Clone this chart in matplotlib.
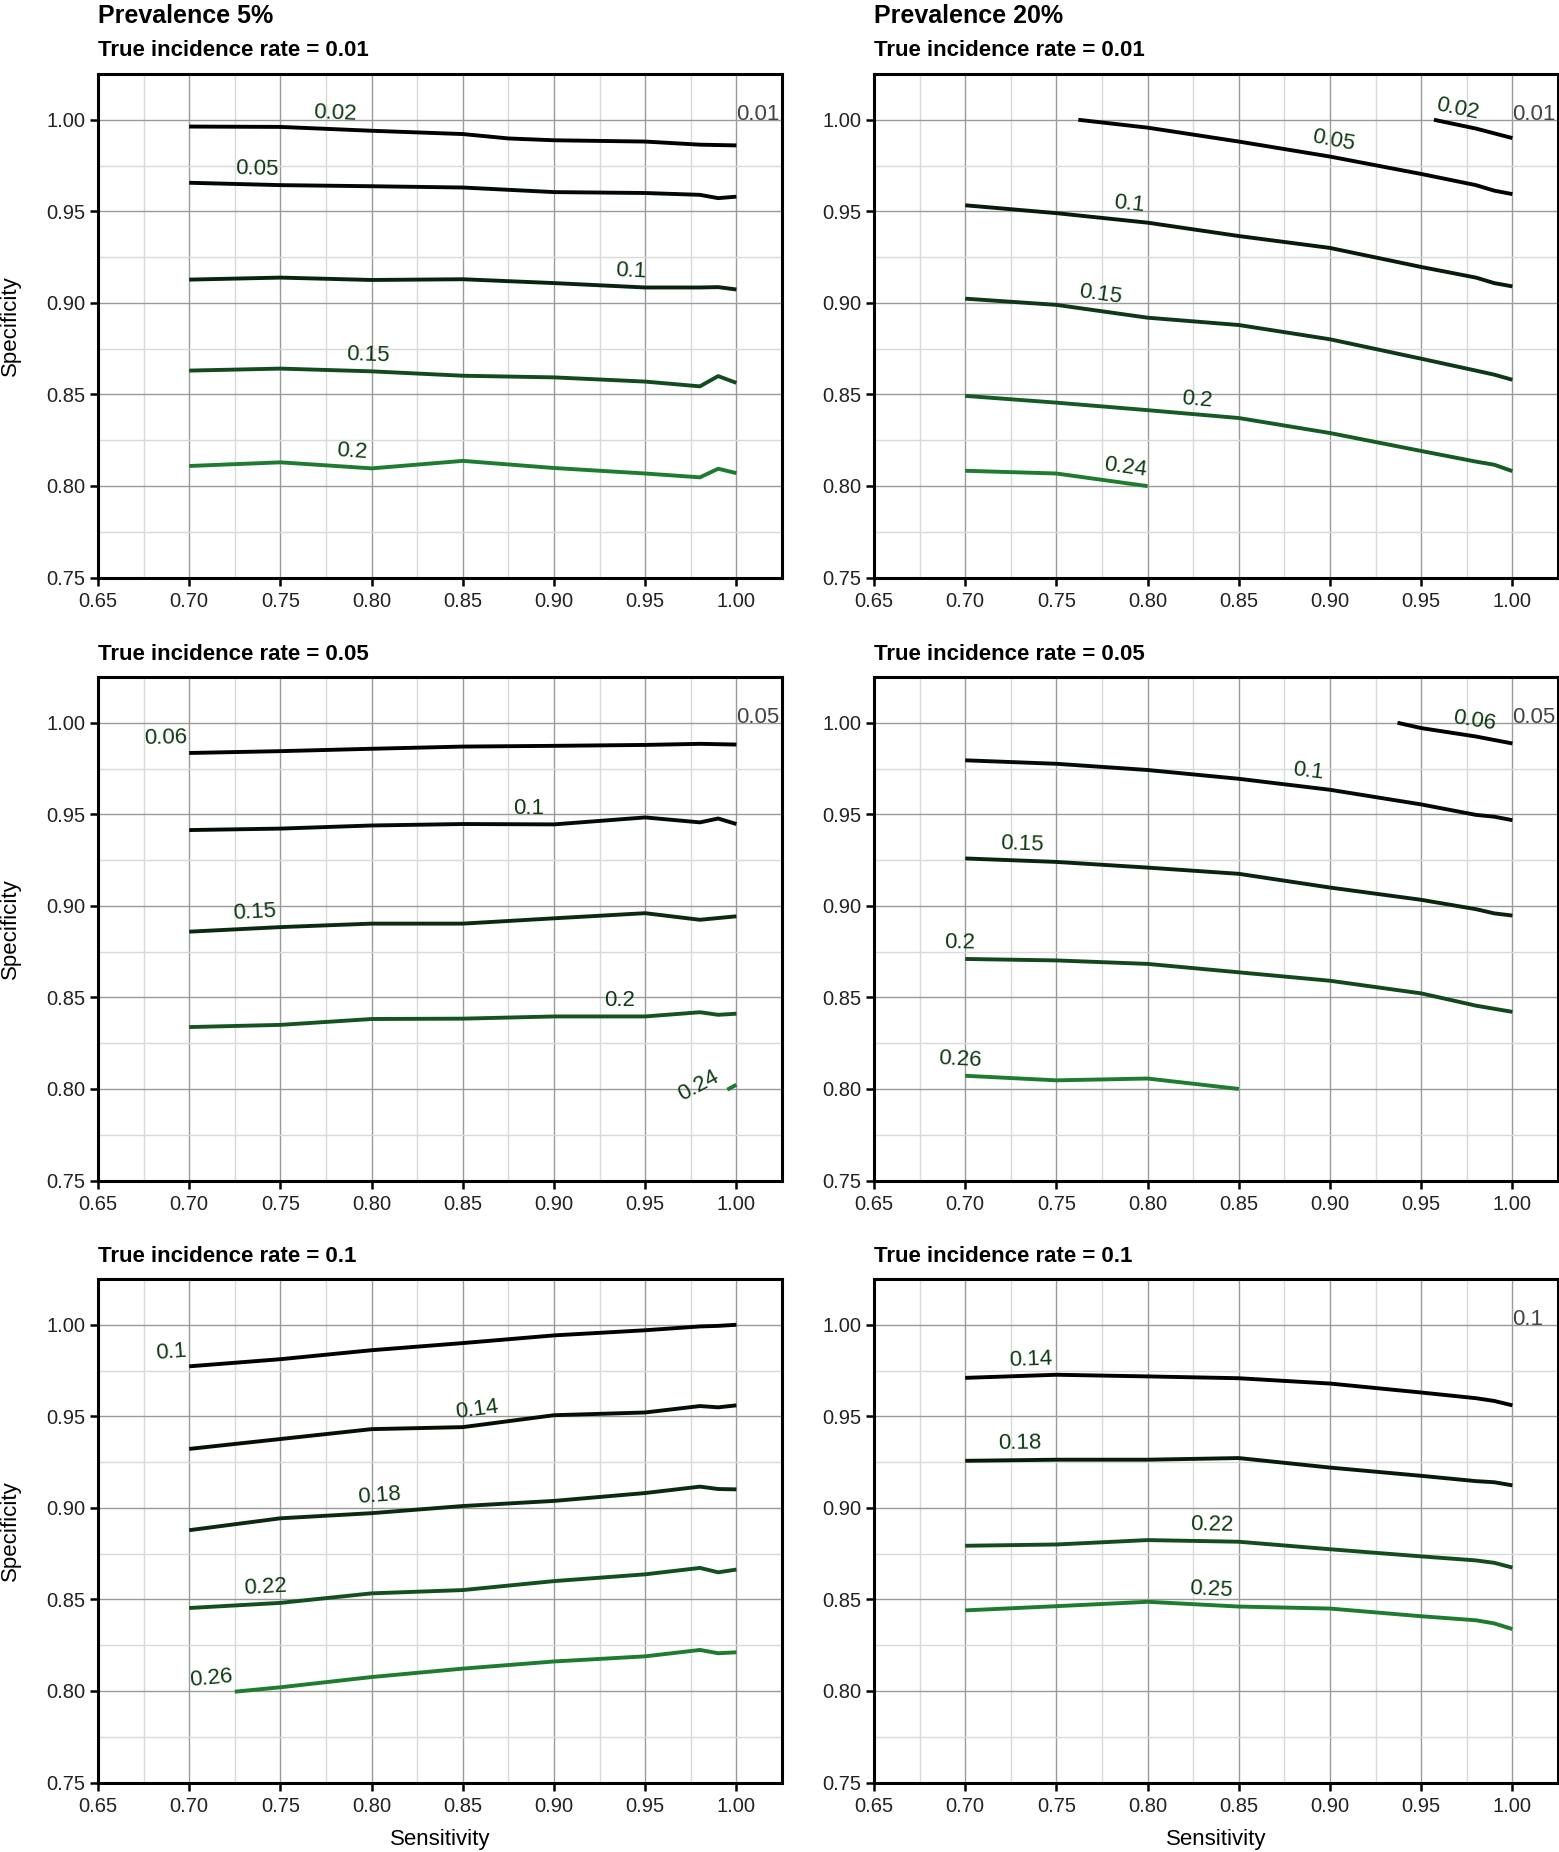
import numpy as np
import matplotlib
matplotlib.use("Agg")
import matplotlib.pyplot as plt
from matplotlib.colors import to_rgb

plt.rcParams['font.family'] = ['Liberation Sans', 'DejaVu Sans']

# sensitivity grid used by most contour lines
SENS = [0.70, 0.75, 0.80, 0.85, 0.90, 0.95, 0.98, 0.99, 1.00]

# ---- Prevalence 5%, true incidence 0.01
a_levels = [0.02, 0.05, 0.1, 0.15, 0.2]
a_x = [[0.70, 0.75, 0.80, 0.85, 0.875, 0.90, 0.95, 0.98, 1.00], SENS, SENS, SENS, SENS]
a_y = [[0.9963, 0.9961, 0.9940, 0.9922, 0.9898, 0.9888, 0.9881, 0.9864, 0.9860],
       [0.9656, 0.9643, 0.9637, 0.9630, 0.9605, 0.9600, 0.9590, 0.9572, 0.9580],
       [0.9127, 0.9138, 0.9125, 0.9129, 0.9108, 0.9084, 0.9084, 0.9086, 0.9073],
       [0.8630, 0.8641, 0.8626, 0.8602, 0.8593, 0.8570, 0.8544, 0.8600, 0.8563],
       [0.8109, 0.8129, 0.8096, 0.8137, 0.8098, 0.8068, 0.8047, 0.8094, 0.8070]]
a_lab = [(0.780, 1.0032), (0.737, 0.9730), (0.942, 0.9172), (0.798, 0.8716), (0.789, 0.8187)]
a_corner = "0.01"

# ---- Prevalence 20%, true incidence 0.01
b_levels = [0.02, 0.05, 0.1, 0.15, 0.2, 0.24]
b_x = [[0.957, 0.98, 1.00],
       [0.762, 0.80, 0.85, 0.90, 0.95, 0.98, 0.99, 1.00],
       SENS, SENS, SENS,
       [0.70, 0.75, 0.80]]
b_y = [[1.0000, 0.9952, 0.9900],
       [1.0000, 0.9957, 0.9881, 0.9799, 0.9704, 0.9643, 0.9613, 0.9594],
       [0.9533, 0.9490, 0.9438, 0.9365, 0.9300, 0.9196, 0.9138, 0.9108, 0.9090],
       [0.9023, 0.8989, 0.8919, 0.8879, 0.8801, 0.8695, 0.8630, 0.8608, 0.8580],
       [0.8492, 0.8455, 0.8414, 0.8371, 0.8289, 0.8191, 0.8133, 0.8116, 0.8081],
       [0.8083, 0.8068, 0.7999]]
b_lab = [(0.970, 1.0060), (0.902, 0.9888), (0.790, 0.9540), (0.774, 0.9043),
         (0.827, 0.8472), (0.788, 0.8099)]
b_corner = "0.01"

# ---- Prevalence 5%, true incidence 0.05
c_levels = [0.06, 0.1, 0.15, 0.2, 0.24]
c_x = [[0.70, 0.75, 0.80, 0.85, 0.90, 0.95, 0.98, 1.00],
       SENS,
       [0.70, 0.75, 0.80, 0.85, 0.90, 0.95, 0.98, 1.00],
       SENS,
       [0.995, 1.00]]
c_y = [[0.9835, 0.9845, 0.9858, 0.9870, 0.9874, 0.9879, 0.9885, 0.9881],
       [0.9414, 0.9422, 0.9439, 0.9447, 0.9445, 0.9483, 0.9456, 0.9477, 0.9447],
       [0.8859, 0.8884, 0.8903, 0.8903, 0.8932, 0.8960, 0.8924, 0.8943],
       [0.8338, 0.8350, 0.8382, 0.8384, 0.8396, 0.8396, 0.8419, 0.8405, 0.8411],
       [0.7996, 0.8023]]
c_lab = [(0.687, 0.9916), (0.886, 0.9529), (0.736, 0.8964), (0.936, 0.8482), (0.979, 0.8015)]
c_corner = "0.05"

# ---- Prevalence 20%, true incidence 0.05
d_levels = [0.06, 0.1, 0.15, 0.2, 0.26]
d_x = [[0.937, 0.95, 0.98, 1.00],
       SENS, SENS,
       [0.70, 0.75, 0.80, 0.85, 0.90, 0.95, 0.98, 1.00],
       [0.70, 0.75, 0.80, 0.85]]
d_y = [[1.0000, 0.9971, 0.9925, 0.9887],
       [0.9795, 0.9776, 0.9742, 0.9694, 0.9634, 0.9554, 0.9497, 0.9487, 0.9468],
       [0.9259, 0.9240, 0.9209, 0.9175, 0.9100, 0.9033, 0.8982, 0.8959, 0.8947],
       [0.8710, 0.8702, 0.8683, 0.8637, 0.8591, 0.8522, 0.8455, 0.8421],
       [0.8072, 0.8047, 0.8057, 0.8000]]
d_lab = [(0.979, 1.0008), (0.888, 0.9736), (0.731, 0.9334), (0.697, 0.8796), (0.697, 0.8162)]
d_corner = "0.05"

# ---- Prevalence 5%, true incidence 0.1
e_levels = [0.1, 0.14, 0.18, 0.22, 0.26]
e_x = [SENS, SENS, SENS, SENS,
       [0.725, 0.75, 0.80, 0.85, 0.90, 0.95, 0.98, 0.99, 1.00]]
e_y = [[0.9773, 0.9812, 0.9861, 0.9900, 0.9942, 0.9970, 0.9991, 0.9994, 1.0000],
       [0.9322, 0.9376, 0.9430, 0.9441, 0.9506, 0.9521, 0.9556, 0.9549, 0.9560],
       [0.8878, 0.8943, 0.8971, 0.9010, 0.9038, 0.9081, 0.9116, 0.9103, 0.9101],
       [0.8453, 0.8481, 0.8533, 0.8551, 0.8600, 0.8637, 0.8672, 0.8648, 0.8663],
       [0.7996, 0.8020, 0.8076, 0.8122, 0.8161, 0.8189, 0.8224, 0.8206, 0.8211]]
e_lab = [(0.690, 0.9850), (0.858, 0.9536), (0.804, 0.9064), (0.742, 0.8564), (0.712, 0.8068)]
e_corner = None

# ---- Prevalence 20%, true incidence 0.1
f_levels = [0.14, 0.18, 0.22, 0.25]
f_x = [SENS, SENS, SENS, SENS]
f_y = [[0.9710, 0.9727, 0.9718, 0.9708, 0.9679, 0.9630, 0.9599, 0.9584, 0.9560],
       [0.9257, 0.9263, 0.9263, 0.9272, 0.9220, 0.9175, 0.9146, 0.9140, 0.9123],
       [0.8793, 0.8800, 0.8824, 0.8815, 0.8774, 0.8735, 0.8713, 0.8700, 0.8674],
       [0.8440, 0.8463, 0.8487, 0.8461, 0.8450, 0.8408, 0.8386, 0.8369, 0.8338]]
f_lab = [(0.736, 0.9811), (0.730, 0.9352), (0.835, 0.8908), (0.835, 0.8551)]
f_corner = "0.1"

prev_titles = ["Prevalence 5%", "Prevalence 20%"]
rate_titles = ["True incidence rate = 0.01", "True incidence rate = 0.05",
               "True incidence rate = 0.1"]

panels = [[(a_levels, a_x, a_y, a_lab, a_corner), (b_levels, b_x, b_y, b_lab, b_corner)],
          [(c_levels, c_x, c_y, c_lab, c_corner), (d_levels, d_x, d_y, d_lab, d_corner)],
          [(e_levels, e_x, e_y, e_lab, e_corner), (f_levels, f_x, f_y, f_lab, f_corner)]]

LOW = np.array(to_rgb("#000000"))
HIGH = np.array(to_rgb("#1e7b30"))
LABEL_COL = "#0d3b12"


def level_colour(lev, levels):
    t = (lev - min(levels)) / (max(levels) - min(levels))
    return tuple(LOW + (HIGH - LOW) * t ** 1.5)


def label_angle(ax, xs, ys, xl):
    i = int(np.searchsorted(xs, xl)) - 1
    i = min(max(i, 0), len(xs) - 2)
    p0 = ax.transData.transform((xs[i], ys[i]))
    p1 = ax.transData.transform((xs[i + 1], ys[i + 1]))
    return np.degrees(np.arctan2(p1[1] - p0[1], p1[0] - p0[0]))


W, H = 1559.0, 1852.0
fig = plt.figure(figsize=(W / 100, H / 100), dpi=100)

col_left = [98, 874]
ax_w = 684
row_top = [74, 677, 1279]
ax_h = 503.5

for r in range(3):
    for c in range(2):
        levels, xs_all, ys_all, labs, corner = panels[r][c]
        ax = fig.add_axes([col_left[c] / W, 1 - (row_top[r] + ax_h) / H, ax_w / W, ax_h / H])
        ax.set_xlim(0.65, 1.025)
        ax.set_ylim(0.75, 1.025)
        ax.set_xticks(np.arange(0.65, 1.001, 0.05))
        ax.set_yticks(np.arange(0.75, 1.001, 0.05))
        ax.set_xticks(np.arange(0.675, 1.03, 0.05), minor=True)
        ax.set_yticks(np.arange(0.775, 1.03, 0.05), minor=True)
        ax.xaxis.set_major_formatter(plt.FormatStrFormatter('%.2f'))
        ax.yaxis.set_major_formatter(plt.FormatStrFormatter('%.2f'))
        ax.grid(which='major', color='#9a9a9a', lw=1.0)
        ax.grid(which='minor', color='#d9d9d9', lw=1.0)
        ax.set_axisbelow(True)
        ax.tick_params(which='major', direction='out', length=6, width=1.8,
                       labelsize=14.5, pad=3, labelcolor='#222222')
        ax.tick_params(axis='x', which='major', pad=4.5)
        ax.tick_params(which='minor', length=0)
        for sp in ax.spines.values():
            sp.set_linewidth(2.2)
            sp.set_color('black')

        for lev, xs, ys, (lx, ly) in zip(levels, xs_all, ys_all, labs):
            col = level_colour(lev, levels)
            ax.plot(xs, ys, color=col, lw=2.8, solid_capstyle='butt', zorder=3)
            ang = label_angle(ax, xs, ys, lx)
            ax.text(lx, ly, f"{lev:g}", color=LABEL_COL, fontsize=16, rotation=ang,
                    rotation_mode='anchor', ha='center', va='center', zorder=4)
        if corner:
            ax.text(1.0, 1.0, corner, color='#444444', fontsize=16,
                    ha='left', va='baseline', clip_on=True, zorder=4)

        fig.text(col_left[c] / W, 1 - (row_top[r] - 23) / H, rate_titles[r],
                 fontsize=16, fontweight='bold', ha='left', va='center')
        if r == 0:
            fig.text(col_left[c] / W, 1 - 16 / H, prev_titles[c],
                     fontsize=18, fontweight='bold', ha='left', va='center')
        if c == 0:
            fig.text(10 / W, 1 - (row_top[r] + ax_h / 2) / H, "Specificity",
                     fontsize=16, rotation=90, ha='center', va='center')
        if r == 2:
            fig.text((col_left[c] + ax_w / 2) / W, 1 - 1839 / H, "Sensitivity",
                     fontsize=16, ha='center', va='center')

fig.savefig("out.png", dpi=100)
